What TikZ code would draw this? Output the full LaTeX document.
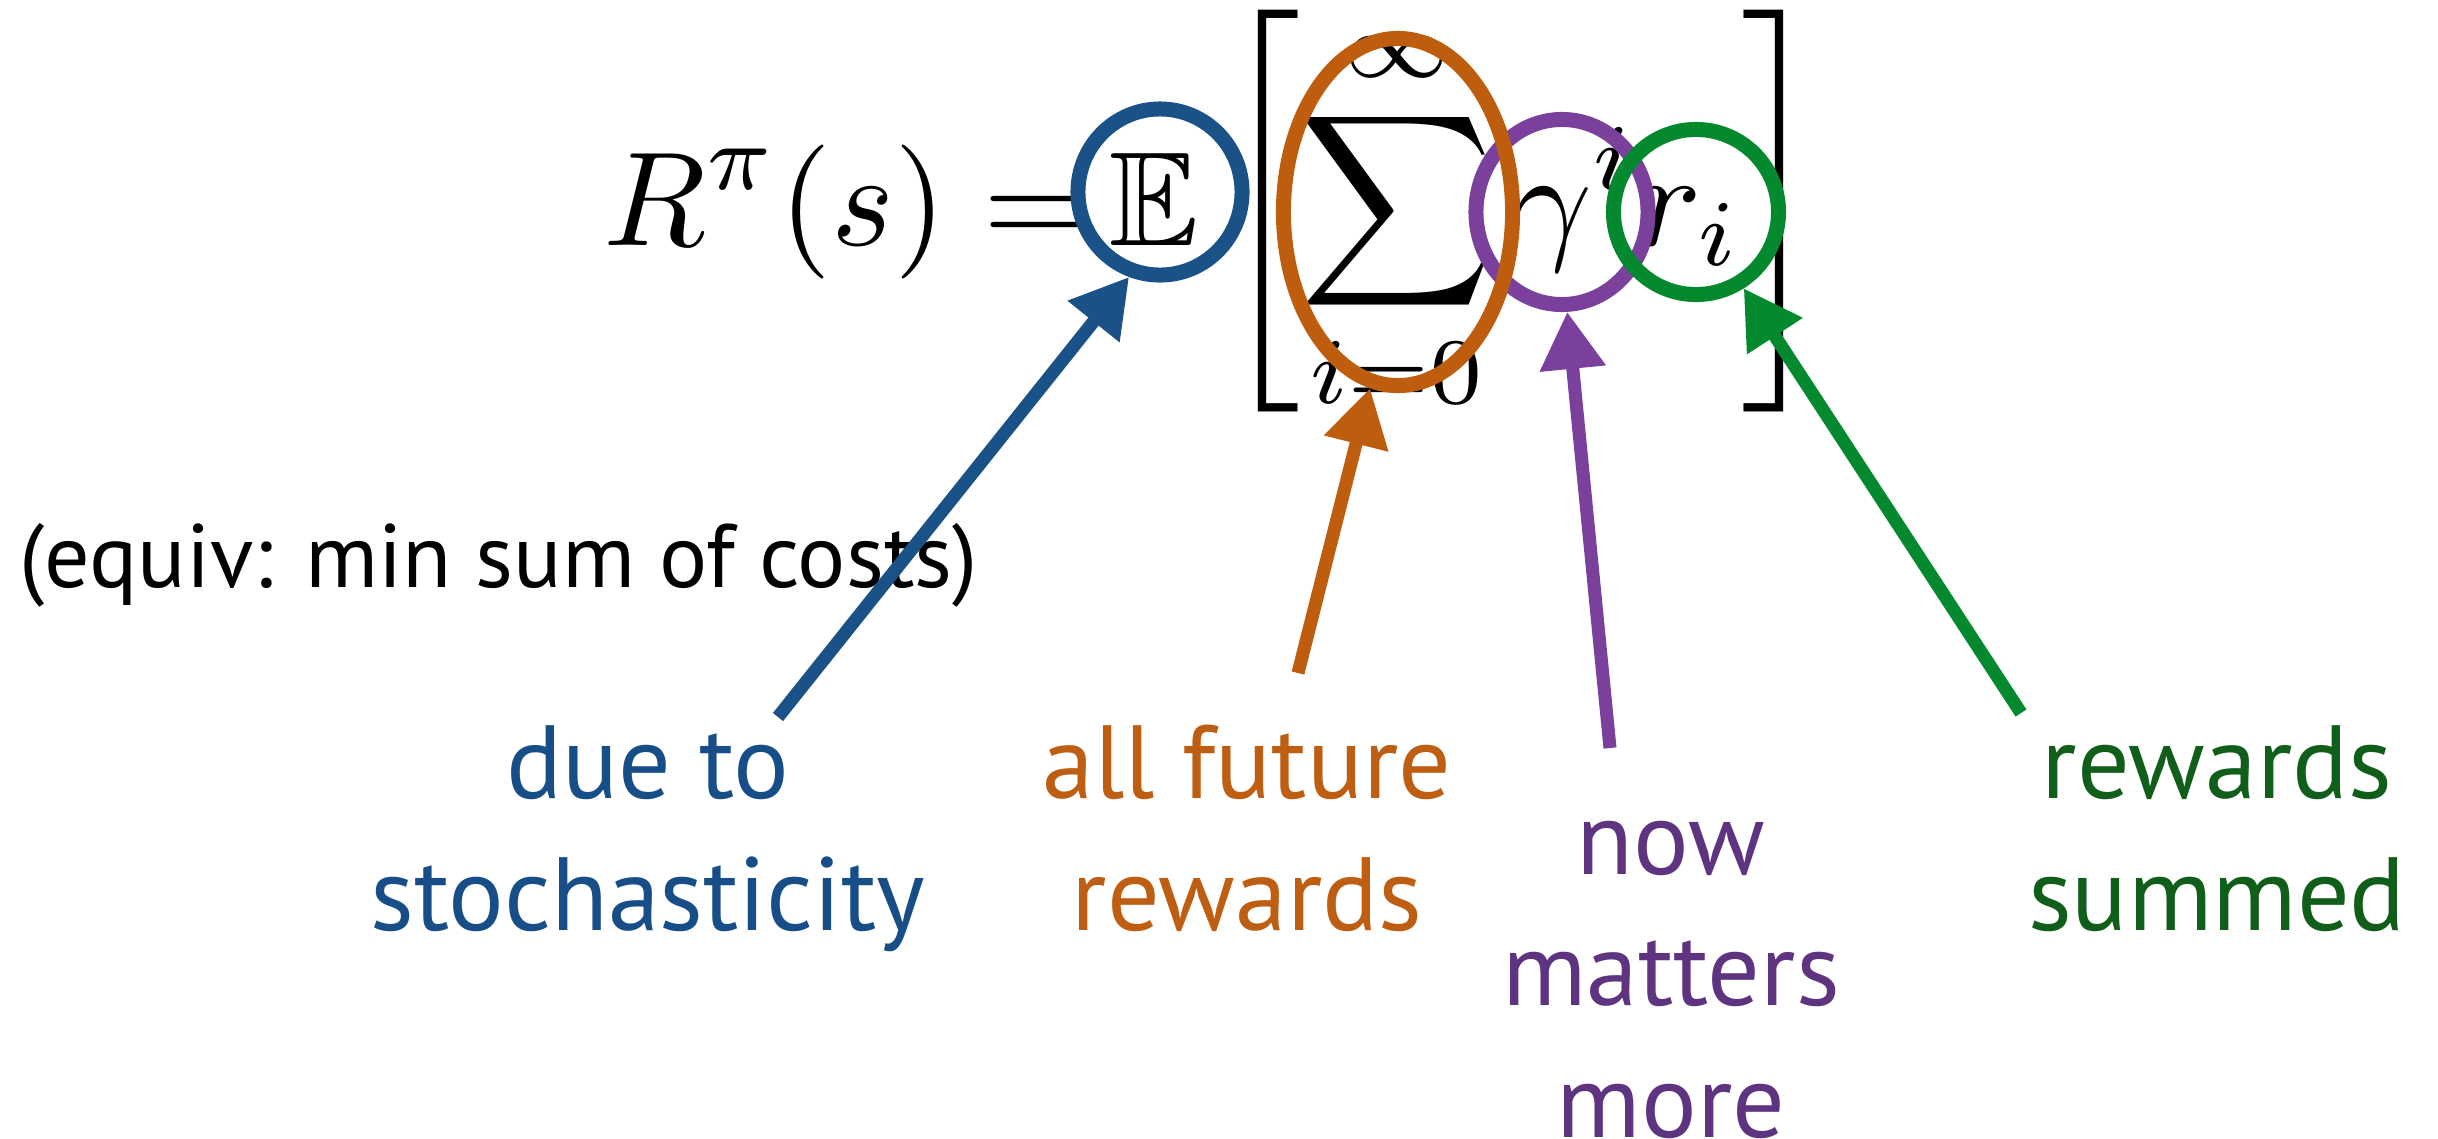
\documentclass[tikz,border=0pt]{standalone}
\usepackage{fontspec}
\usepackage{amssymb}
\usetikzlibrary{shapes.geometric,arrows.meta}
\newfontfamily\gill{PT Sans}
\definecolor{cblue}{RGB}{26,82,136}
\definecolor{corange}{RGB}{190,93,14}
\definecolor{cpurple}{RGB}{122,64,155}
\definecolor{cgreen}{RGB}{4,137,46}
\definecolor{tblue}{RGB}{24,78,135}
\definecolor{torange}{RGB}{190,94,18}
\definecolor{tpurple}{RGB}{94,51,128}
\definecolor{tgreen}{RGB}{16,94,26}
\begin{document}
\begin{tikzpicture}[x=0.01cm,y=-0.01cm,
  ring/.style={ellipse, draw, line width=0.15cm, inner sep=0pt},
  arr/.style={line width=0.13cm, -{Triangle[length=0.57cm,width=0.63cm]}},
  lbl/.style={font=\gill\fontsize{29.6pt}{37.3pt}\selectfont, align=center, inner sep=0pt, anchor=base},
  note/.style={font=\gill\fontsize{25.6pt}{30pt}\selectfont, inner sep=0pt, anchor=base west}]
\useasboundingbox (0,0) rectangle (2438,1139);
% equation
\node[anchor=base west, inner sep=0pt] (eq) at (603,245)
  {\scalebox{3.81}{$\displaystyle R^\pi(s) = \mskip-2mu\mathbb{E}\left[\sum_{i=0}^\infty \gamma^i r_i\right]$}};
% side note
\node[note] (equiv) at (19,587) {(equiv: min sum of costs)};
% labels (anchored at the baseline of their last line)
\node[lbl, text=tblue] (due) at (648,930) {due to\\stochasticity};
\node[lbl, text=torange] (fut) at (1247,930) {all future\\rewards};
\node[lbl, text=tpurple] (now) at (1671,1137) {now\\matters\\more};
\node[lbl, text=tgreen] (sum) at (2217,930) {rewards\\summed};
% rings
\node[ring, draw=cblue, minimum width=1.64cm, minimum height=1.66cm] (E) at (1160,192) {};
\node[ring, draw=cpurple, minimum width=1.72cm, minimum height=1.85cm] (G) at (1562,212) {};
\node[ring, draw=corange, minimum width=2.29cm, minimum height=3.47cm] (S) at (1398,212) {};
\node[ring, draw=cgreen, minimum width=1.65cm, minimum height=1.65cm] (Rr) at (1696,212) {};
% arrow tails
\coordinate (tb) at (778,717);
\coordinate (to) at (1298,673);
\coordinate (tp) at (1610,748);
\coordinate (tg) at (2021,713);
% arrows
\draw[arr, cblue] (tb) -- (E.250);
\draw[arr, corange] (to) -- (S.261.7);
\draw[arr, cpurple] (tp) -- (G.273.3);
\draw[arr, cgreen] (tg) -- (Rr.302.6);
\end{tikzpicture}
\end{document}
